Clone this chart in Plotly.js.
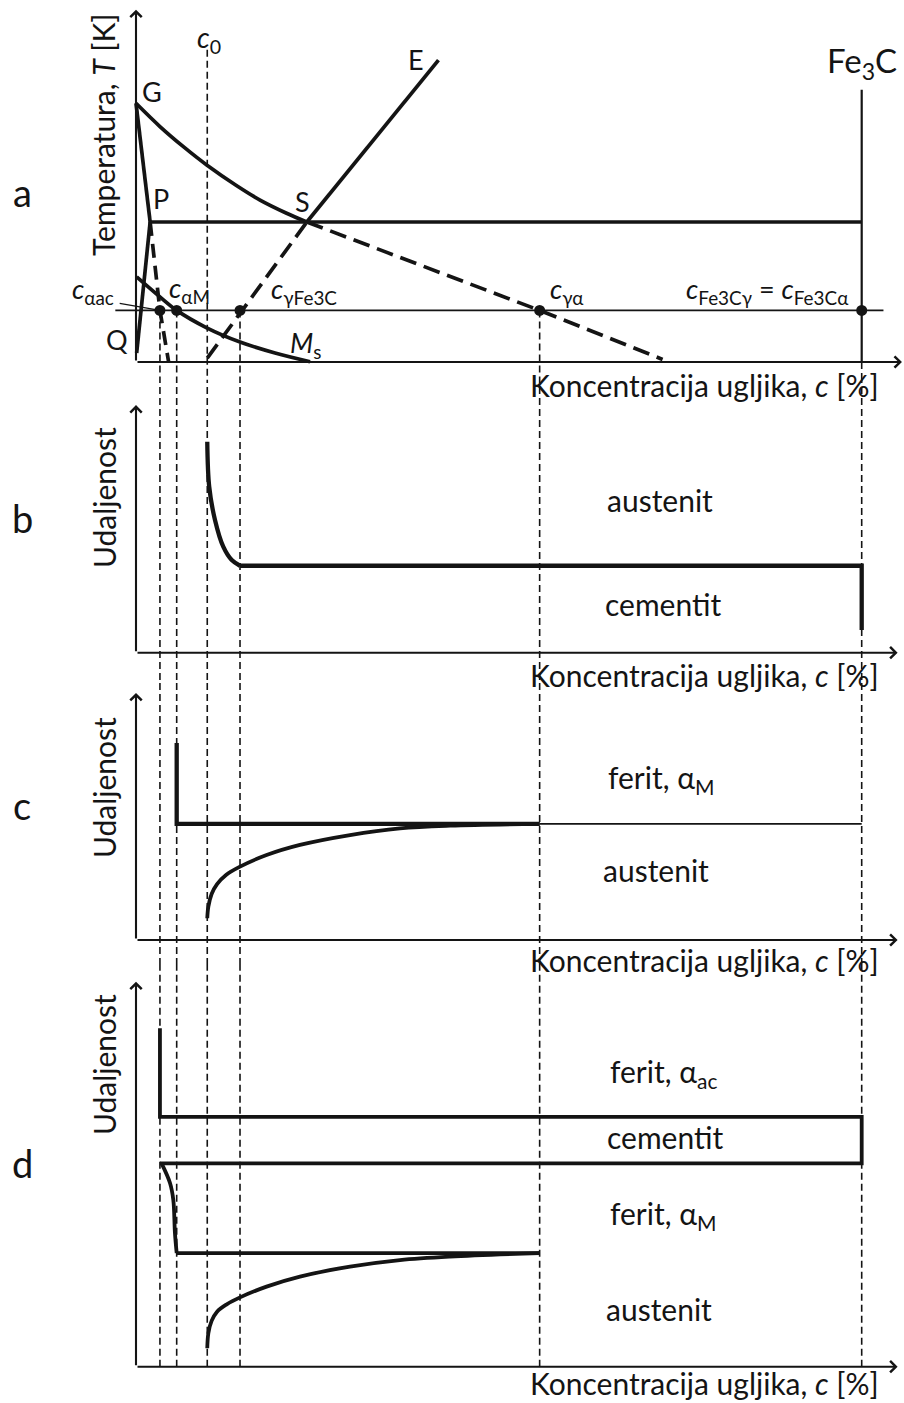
<!DOCTYPE html>
<html>
<head>
<meta charset="utf-8">
<script src="https://cdn.plot.ly/plotly-3.0.1.min.js"></script>
<style>html,body{margin:0;padding:0;background:#fff;}#chart{width:904px;height:1403px;}</style>
</head>
<body>
<div id="chart"></div>
<script>
// ---------- DATA (schematic values) ----------
// characteristic carbon concentrations [%]
const markNames = ['cαac', 'cαM', 'c0', 'cγFe3C', 'cγα', 'Fe3C'];
const markC     = [0.22, 0.374, 0.655, 0.956, 3.71, 6.67];
const isoT      = 863;        // isothermal holding temperature [K]
const eutT      = 1000;       // eutectoid (P-S) temperature [K]
const baseT     = 783;        // bottom of temperature axis [K]

// panel a: phase-diagram lines (c [%], T [K])
const gsC = [0, 0.22, 0.441, 0.653, 0.919, 1.14, 1.379, 1.57];
const gsT = [1184, 1148, 1116, 1088, 1057, 1034, 1014, 1000];
const sgaC = [1.57, 3.71, 4.84];                   const sgaT = [1000, 863, 787];
const seC = [1.57, 2.78];                          const seT = [1000, 1251];
const seDashC = [0.655, 1.57];                     const seDashT = [789, 1000];
const gpC = [0, 0.13];                             const gpT = [1184, 1000];
const pqC = [0.13, 0.006];                         const pqT = [1000, 797];
const pDashC = [0.13, 0.22, 0.30];                 const pDashT = [1000, 863, 783];
const msC = [0.006, 0.22, 0.374, 0.65, 0.956, 1.278, 1.60];
const msT = [915, 884, 863, 836, 814, 797, 783.5];
const fe3cTopT = 1205;

// panel b: austenite / cementite interface (c [%], distance)
const bCurveC = [0.655, 0.673, 0.726, 0.802, 0.88, 0.956];
const bCurveD = [85.2, 67.0, 53.6, 42.8, 37.4, 35.1];
const bLevel = 35.1, bCemBottom = 9.2;

// panel c: ferrite / austenite
const cStepTop = 79.8, cLevel = 47.0;
const cAusC = [0.655, 0.665, 0.695, 0.745, 0.83, 0.956, 1.2, 1.507, 1.967, 2.426, 2.886, 3.71];
const cAusD = [8.8, 13.5, 18.6, 22.6, 26.4, 29.7, 34.4, 38.5, 42.5, 45.2, 46.3, 47.0];

// panel d: ferrite(ac) / cementite / ferrite(M) / austenite
const dStepTop = 87.9, dCemTop = 64.9, dCemBottom = 52.8, dLevel = 29.5;
const dFerC = [0.235, 0.3125, 0.343, 0.358, 0.374];
const dFerD = [52.8, 47.7, 43.3, 34.7, 29.5];
const dAusC = [0.655, 0.665, 0.695, 0.745, 0.834, 0.956, 1.2, 1.507, 1.967, 2.426, 2.886, 3.71];
const dAusD = [4.8, 8.7, 11.9, 14.3, 16.2, 18.0, 20.8, 23.4, 26.0, 27.7, 28.6, 29.5];

// text
const phaseLabelsB = ['austenit', 'cementit'];
const phaseLabelsC = ['ferit, α<sub>M</sub>', 'austenit'];
const phaseLabelsD = ['ferit, α<sub>ac</sub>', 'cementit', 'ferit, α<sub>M</sub>', 'austenit'];
const xTitle = 'Koncentracija ugljika, <i>c</i> [%]';
const yTitleA = 'Temperatura, <i>T</i> [K]';
const yTitleB = 'Udaljenost';

// ---------- BUILD ----------
const W = 904, H = 1403;
const INK = '#141414';
const FONT = 'Lato, "Open Sans", "DejaVu Sans", sans-serif';
const P = (x, y) => ({x: x / W, y: 1 - y / H});   // pixel -> paper helper for text placement

const traces = [];
function line(x, y, ya, w, opts = {}) {
  traces.push(Object.assign({
    type: 'scatter', mode: 'lines', x: x, y: y, xaxis: 'x', yaxis: ya,
    line: Object.assign({color: INK, width: w}, opts.line || {}),
    hoverinfo: 'skip'
  }, opts.extra || {}));
}
const spline = {shape: 'spline', smoothing: 1};
const thickDash = '17px,8px';
const TA = 3.7;

// panel a
line(gsC, gsT, 'y', TA, {line: spline});
line(sgaC, sgaT, 'y', TA, {line: {dash: thickDash}});
line(seC, seT, 'y', TA);
line(seDashC, seDashT, 'y', TA, {line: {dash: thickDash}});
line(gpC, gpT, 'y', TA);
line(pqC, pqT, 'y', TA);
line(pDashC, pDashT, 'y', TA, {line: {dash: '14px,8px'}});
line(msC, msT, 'y', TA, {line: spline});
line([gpC[1], markC[5]], [eutT, eutT], 'y', TA);
line([-0.19, 6.87], [isoT, isoT], 'y', 1.7);
line([-0.15, markC[0]], [874, isoT], 'y', 1.2);
line([markC[5], markC[5]], [baseT, fe3cTopT], 'y', 2.2);
traces.push({type: 'scatter', mode: 'markers', x: [markC[0], markC[1], markC[3], markC[4], markC[5]],
  y: [isoT, isoT, isoT, isoT, isoT], xaxis: 'x', yaxis: 'y',
  marker: {color: INK, size: 11}, hoverinfo: 'skip'});

// panel b
line(bCurveC, bCurveD, 'y2', 4.3, {line: spline});
line([markC[3], markC[5], markC[5]], [bLevel, bLevel, bCemBottom], 'y2', 4.3);

// panel c
line([markC[1], markC[1], markC[4]], [cStepTop, cLevel, cLevel], 'y3', 4.3);
line([markC[4], markC[5]], [cLevel, cLevel], 'y3', 1.9);
line(cAusC, cAusD, 'y3', 3.8, {line: spline});

// panel d
line([markC[0], markC[0], markC[5], markC[5], markC[0]], [dStepTop, dCemTop, dCemTop, dCemBottom, dCemBottom], 'y4', 3.8);
line(dFerC, dFerD, 'y4', 3.8, {line: spline});
line([markC[1], markC[4]], [dLevel, dLevel], 'y4', 3.8);
line(dAusC, dAusD, 'y4', 3.8, {line: spline});

// shapes: dashed guide lines
const shapes = [];
const thinDash = '7px,4px';
function vdash(c, yref, y0, y1) {
  shapes.push({type: 'line', xref: 'x', yref: yref, x0: c, x1: c, y0: y0, y1: y1,
    line: {color: INK, width: 1.6, dash: thinDash}, layer: 'below'});
}
[0, 1, 3, 4].forEach(i => vdash(markC[i], 'y', isoT, 700));
vdash(markC[2], 'y', 1267, 700);
vdash(markC[5], 'y', baseT, 700);
['y2 domain', 'y3 domain'].forEach(r => markC.forEach(c => vdash(c, r, 0, 1)));
markC.forEach(c => vdash(c, 'y4', 0, 200));

// axes as arrows
const ann = [];
function arrow(x, y, ax, ay, yref) {
  ann.push({x: x, y: y, ax: ax, ay: ay, xref: 'x', yref: yref, axref: 'x', ayref: yref,
    text: '', showarrow: true, arrowhead: 4, arrowsize: 1.05, arrowwidth: 2.1, arrowcolor: INK, standoff: 0});
}
arrow(7.04, baseT, 0, baseT, 'y');
arrow(0, 1329, 0, baseT, 'y');
['y2', 'y3', 'y4'].forEach(r => { arrow(7.0, 0, 0, 0, r); arrow(0, 100, 0, 0, r); });

function txt(text, px, py, size, extra = {}) {
  const p = P(px, py);
  ann.push(Object.assign({xref: 'paper', yref: 'paper', x: p.x, y: p.y, text: text, showarrow: false,
    xanchor: 'center', yanchor: 'middle', font: {family: FONT, size: size, color: INK}}, extra));
}
const FS = 30;
// panel letters
txt('a', 22, 192, 38); txt('b', 22, 518, 38); txt('c', 22, 805, 38); txt('d', 22, 1163, 38);
// axis titles
txt(yTitleA, 103, 135, FS, {textangle: -90});
[498, 788, 1065].forEach(y => txt(yTitleB, 104, y, FS, {textangle: -90}));
[385, 675, 960, 1383].forEach(y => txt(xTitle, 704, y, FS));
// panel a labels
txt('G', 152, 92, 27); txt('P', 161, 199, 27); txt('S', 302, 201, 27);
txt('Q', 117, 339, 27); txt('E', 416, 60, 27);
txt('Fe<sub>3</sub>C', 862, 63, 33);
txt('<i>c</i><sub>0</sub>', 209, 39, 28);
txt('<i>c</i><sub>αac</sub>', 93, 291, 27);
txt('<i>c</i><sub>αM</sub>', 189, 289, 27);
txt('<i>c</i><sub>γFe3C</sub>', 304, 290, 27);
txt('<i>M</i><sub>s</sub>', 305, 344, 27);
txt('<i>c</i><sub>γα</sub>', 567, 290, 27);
txt('<i>c</i><sub>Fe3Cγ</sub> = <i>c</i><sub>Fe3Cα</sub>', 767, 290, 27);
// phase labels
txt(phaseLabelsB[0], 660, 500, FS); txt(phaseLabelsB[1], 663, 604, FS);
txt(phaseLabelsC[0], 661, 779, FS); txt(phaseLabelsC[1], 656, 870, FS);
txt(phaseLabelsD[0], 663, 1073, FS); txt(phaseLabelsD[1], 665, 1137, FS);
txt(phaseLabelsD[2], 663, 1215, FS); txt(phaseLabelsD[3], 659, 1309, FS);

const hidden = {visible: false, fixedrange: true};
const layout = {
  width: W, height: H, margin: {l: 0, r: 0, t: 0, b: 0},
  paper_bgcolor: '#fff', plot_bgcolor: 'rgba(0,0,0,0)', showlegend: false,
  font: {family: FONT, size: 26, color: INK},
  xaxis: Object.assign({range: [-136 / 108.8, 768 / 108.8], anchor: 'y'}, hidden),
  yaxis: Object.assign({domain: [1 - 380 / H, 1], range: [755.1, 1344.1], anchor: 'x'}, hidden),
  yaxis2: Object.assign({domain: [1 - 680 / H, 1 - 380 / H], range: [-11.02, 110.1], anchor: 'x'}, hidden),
  yaxis3: Object.assign({domain: [1 - 965 / H, 1 - 680 / H], range: [-10.12, 105.26], anchor: 'x'}, hidden),
  yaxis4: Object.assign({domain: [0, 1 - 965 / H], range: [-9.43, 104.34], anchor: 'x'}, hidden),
  shapes: shapes, annotations: ann
};
Plotly.newPlot('chart', traces, layout, {staticPlot: true, displayModeBar: false});
</script>
</body>
</html>
